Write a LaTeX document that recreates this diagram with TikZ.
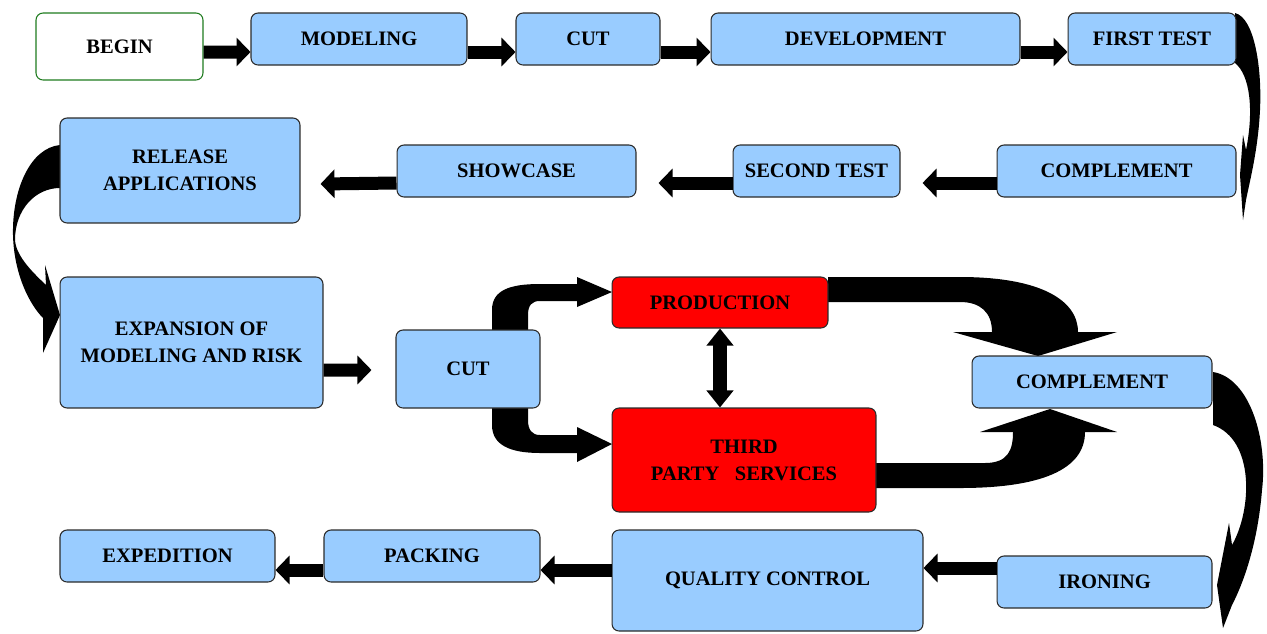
\documentclass[tikz,border=0pt]{standalone}
\usepackage{fontspec}
\setmainfont{Liberation Serif}
\usepackage{tikz}
\usetikzlibrary{arrows.meta, calc}
\definecolor{boxblue}{HTML}{99CCFF}
\definecolor{boxred}{HTML}{FF0000}
\definecolor{boxline}{HTML}{2B2B2B}
\definecolor{startline}{HTML}{1E7B1E}
\tikzset{
  stage/.style={draw=boxline, fill=boxblue, rounded corners=4pt, line width=0.6pt,
    inner sep=0pt, align=center, font=\bfseries\fontsize{11.7}{15.4}\selectfont},
  hotstage/.style={stage, fill=boxred},
  blockarrow/.style={line width=0.26cm, -{Triangle[width=0.56cm,length=0.28cm]}},
  twinarrow/.style={line width=0.28cm, {Triangle[width=0.52cm,length=0.34cm]}-{Triangle[width=0.52cm,length=0.34cm]}}
}

\begin{document}
\begin{tikzpicture}[x=0.02cm, y=-0.02cm]
      \useasboundingbox (0,0) rectangle (1267,633);
      \clip (0,0) rectangle (1267,633);

      % curved arrows, drawn first
      % first test -> complement
      \fill (1235,13) .. controls (1255,18) and (1262,70) .. (1260,110)
        .. controls (1258,150) and (1250,180) .. (1246,200) -- (1243,220) -- (1240,175)
        -- (1243,135) -- (1246,150) .. controls (1254,110) and (1250,75) .. (1235,63) -- cycle;
      % release -> expansion
      \fill (60,145) .. controls (30,148) and (12,190) .. (13,235)
        .. controls (14,275) and (30,305) .. (43,318) -- (43,353) -- (60,315) -- (45,265)
        -- (46,285) .. controls (30,270) and (16,255) .. (15,240)
        .. controls (15,210) and (35,188) .. (60,188) -- cycle;
      % cut -> production
      \fill (492,330) -- (492,310) .. controls (492,290) and (510,284) .. (540,284)
        -- (577,284) -- (577,277) -- (612,292) -- (577,307) -- (577,301) -- (540,301)
        .. controls (532,301) and (528,305) .. (528,315) -- (528,330) -- cycle;
      % cut -> third party
      \fill (492,408) -- (492,425) .. controls (492,445) and (510,453) .. (540,453)
        -- (577,453) -- (577,462) -- (612,444) -- (577,427) -- (577,435) -- (540,435)
        .. controls (532,435) and (528,430) .. (528,420) -- (528,408) -- cycle;
      % production -> complement
      \fill (828,277) -- (960,277) .. controls (1040,277) and (1078,300) .. (1078,332)
        -- (1117,332) -- (1038,356) -- (953,332) -- (992,332)
        .. controls (992,312) and (980,302) .. (960,302) -- (828,302) -- cycle;
      % third party -> complement
      \fill (876,463) -- (985,463) .. controls (1008,463) and (1013,450) .. (1013,432)
        -- (980,432) -- (1050,409) -- (1117,432) -- (1085,432)
        .. controls (1085,470) and (1040,488) .. (960,488) -- (876,488) -- cycle;
      % complement -> ironing
      \fill (1213,372) .. controls (1250,378) and (1268,440) .. (1262,490)
        .. controls (1258,540) and (1245,580) .. (1232,605) -- (1223,628) -- (1217,585)
        -- (1229,523) -- (1232,545) .. controls (1252,510) and (1255,440) .. (1213,425) -- cycle;

      % stages
      \node[stage, fill=white, draw=startline, minimum width=3.34cm, minimum height=1.34cm] (begin) at (119.5,46.5) {BEGIN};
      \node[stage, minimum width=4.32cm, minimum height=1.04cm] (modeling) at (359,39) {MODELING};
      \node[stage, minimum width=2.88cm, minimum height=1.04cm] (cutA) at (588,39) {CUT};
      \node[stage, minimum width=6.18cm, minimum height=1.04cm] (development) at (865.5,39) {DEVELOPMENT};
      \node[stage, minimum width=3.36cm, minimum height=1.04cm] (firstTest) at (1152,39) {FIRST TEST};
      \node[stage, minimum width=4.78cm, minimum height=1.04cm] (complementA) at (1116.5,171) {COMPLEMENT};
      \node[stage, minimum width=3.34cm, minimum height=1.04cm] (secondTest) at (816.5,171) {SECOND TEST};
      \node[stage, minimum width=4.78cm, minimum height=1.04cm] (showcase) at (516.5,171) {SHOWCASE};
      \node[stage, minimum width=4.8cm, minimum height=2.1cm] (release) at (180,170.5) {RELEASE\\APPLICATIONS};
      \node[stage, minimum width=5.26cm, minimum height=2.62cm] (expansion) at (191.5,342.5) {EXPANSION OF\\MODELING AND RISK};
      \node[stage, minimum width=2.88cm, minimum height=1.56cm] (cutB) at (468,369) {CUT};
      \node[hotstage, minimum width=4.32cm, minimum height=1.02cm] (production) at (720,302.5) {PRODUCTION};
      \node[hotstage, minimum width=5.28cm, minimum height=2.08cm] (thirdParty) at (744,460) {THIRD\\PARTY~~~SERVICES};
      \node[stage, minimum width=4.8cm, minimum height=1.04cm] (complementB) at (1092,382) {COMPLEMENT};
      \node[stage, minimum width=4.3cm, minimum height=1.04cm] (ironing) at (1104.5,582) {IRONING};
      \node[stage, minimum width=6.22cm, minimum height=2.02cm] (quality) at (767.5,580.5) {QUALITY CONTROL};
      \node[stage, minimum width=4.32cm, minimum height=1.04cm] (packing) at (432,556) {PACKING};
      \node[stage, minimum width=4.3cm, minimum height=1.04cm] (expedition) at (167.5,556) {EXPEDITION};

      % straight arrows
      \draw[blockarrow] ($(begin.east)+(0,5.5)$) -- ($(modeling.west)+(0,13)$);
      \draw[blockarrow] ($(modeling.east)+(0,13)$) -- ($(cutA.west)+(0,13)$);
      \draw[blockarrow] ($(cutA.east)+(0,13)$) -- ($(development.west)+(0,13)$);
      \draw[blockarrow] ($(development.east)+(0,13)$) -- ($(firstTest.west)+(0,13)$);
      \draw[blockarrow] ($(complementA.west)+(0,12)$) -- ($(secondTest.east)+(22,12)$);
      \draw[blockarrow] ($(secondTest.west)+(0,12)$) -- ($(showcase.east)+(22,12)$);
      \draw[blockarrow] ($(showcase.west)+(0,12)$) -- ($(release.east)+(20,13.5)$);
      \draw[blockarrow] ($(expansion.east)+(0,27.5)$) -- ($(cutB.west)+(-24,1)$);
      \draw[twinarrow] (production.south) -- (production.south |- thirdParty.north);
      \draw[blockarrow] ($(ironing.west)+(0,-14)$) -- ($(quality.east)+(0,-12.5)$);
      \draw[blockarrow] ($(quality.west)+(0,-10.5)$) -- ($(packing.east)+(0,14)$);
      \draw[blockarrow] ($(packing.west)+(0,14)$) -- ($(expedition.east)+(0,14)$);
\end{tikzpicture}
\end{document}
